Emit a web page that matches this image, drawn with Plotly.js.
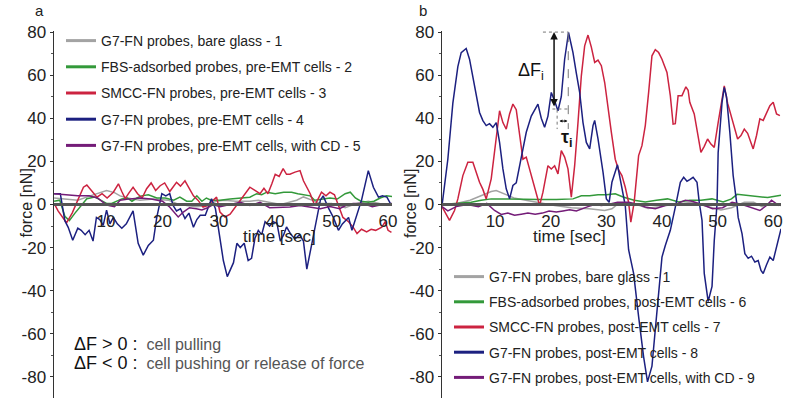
<!DOCTYPE html>
<html>
<head>
<meta charset="utf-8">
<script src="https://cdn.plot.ly/plotly-3.0.1.min.js"></script>
<style>html,body{margin:0;padding:0;background:#fff}#chart{width:800px;height:405px}</style>
</head>
<body>
<div id="chart"></div>
<script>
// ---------- Panel a (pre-EMT) ----------
var tA1 = [0.8,3,5,7.2,8.9,10.1,11.5,12.5,13.8,16,18.5,21,22.5,24.3,26,28,29.5,31,33,35.5,37,39,41,43.8,45,46.5,48,50,52.4,54.5,56.5,58.5,60.7];
var fA1 = [3,2.5,2,4,5.5,6.5,5.5,4,3,2,2.5,2,0.5,-0.5,-1,-0.5,1.5,2,1.5,1.5,2,1,0,2,3.5,2,0.5,0.5,-1.5,0.5,1.5,0.5,0];

var tA2 = [0.8,1.8,2.7,3.5,4.5,5.7,6.6,8,9,10.1,11,12,12.8,13.8,14.6,15.5,16.3,17.5,19,20.5,22,23.1,24.3,25.2,26.1,27,27.8,28.6,30.2,32,33.8,35.5,36.7,37.6,38.5,40,41.5,42.9,44,45.2,46.2,47,48,49.7,51,52.4,53.3,54.2,55.2,56.5,57.5,58.6,59.7,60.7];
var fA2 = [1.5,2,-5.5,-7.5,-4,0,2.7,3.5,2,0.5,0.5,1.5,2.6,3,1.5,3,4,4.5,3,3,2,3.4,1.5,1.5,4,1.5,3,2,2,2.5,3,3.4,5,4.5,5.7,5,5.7,5.7,5,4.5,4,2,2.5,3,2.5,5,5.7,3,1.5,1,1.5,3,4,3.7];

var tA3 = [0.8,1.5,3,4,5,6,6.6,7.5,8.4,9.3,10.2,11.3,12.2,12.8,13.4,14.1,14.8,15.6,16.4,17.2,18,18.8,19.6,20.4,21.3,22.5,23.2,24,24.8,25.5,26.3,27.2,28,28.8,29.6,30.2,31.1,32,32.9,33.8,34.6,35.5,36.4,37.3,38,38.7,39.4,40,40.7,41.4,42,42.6,43.5,44.4,45,45.6,46.2,47,47.6,48.2,49,49.7,50.5,51.2,52,53,53.8,54.5,55.3,56.2,57,57.8,58.9,59.5,60,60.6];
var fA3 = [0.5,-3,-8.5,-4,2,8,9,6,3.4,5,3,5.7,9.6,6,2.7,5.5,8,5,3,7.3,10,6.5,8.7,10,6,10.3,8.5,11,7,4,2,-1.2,-0.5,1.5,3.4,-3.5,-5.8,-4.5,-1.2,2,5,8,6.5,5,7.5,5,9.6,14,13,16.6,14,14,15,15.7,11,8,5,-0.5,3,5.7,4,5.7,4.5,-0.5,-6,-8,-10.5,-13.5,-11.5,-12.7,-11.5,-12,-10.5,-8,-12,-13];

var tA4 = [0.8,1.9,2.7,3.3,4.1,5,5.6,6.3,7,7.7,8.3,8.9,9.5,10.1,10.7,11.3,12,12.8,13.6,14.8,15.7,16.6,17.5,18.4,19,19.9,20.6,21.3,21.9,22.5,23.2,24,24.7,25.5,26.1,26.7,27.6,28.2,28.7,29.4,30.2,30.8,31.5,32.6,33.2,33.8,34.5,35.2,35.8,36.4,37,37.6,38.2,39,39.6,40.3,40.9,41.5,42,42.8,43.5,44.3,45,45.6,46.5,47.4,48,48.5,49.4,50.3,51.2,51.9,53,53.6,54.3,55.3,56.5,57.4,58.3,59,59.8,60.4];
var fA4 = [5,5,-7.5,-10.6,-16.6,-11,-12,-14,-12,-17,-6,-7,-9.7,-2.6,-9,-6,-9,-11,-9,-3,-18,-23.5,-19,-16.6,-6,5,4,5,-0.5,-3,-2,-6.5,-4,-10.6,-7,-5,-5,-1,2.7,-2,-16.6,-26,-33.5,-27,-18,-20,-18,-26,-25,-15.7,-12,-14,-8,-10,-8,-8.7,-17,-14,-10.4,-14,-16,-14,-17,-30,-18,-6,2,4,-1.5,-6,-12,-9,-6,-12,-6,2,15.7,8,3.4,4,3.4,0.5];

var tA5 = [0.8,3,5,7,8.5,9.5,10.5,11.5,12.5,14.3,16,18,20,21.2,21.9,22.8,23.7,24.8,26,27,28,29,30.2,32,33.8,35.5,37.3,39,40.9,42.6,44.4,46.2,48,49.7,51.4,52.5,53.8,55.5,57.2,59,60.7];
var fA5 = [5,4.5,4,4,3,1,-0.5,-1,2,2.6,3,2.5,1.5,-1,-3,-5.8,-3.5,-1.5,-2,-2.5,-1.5,0,-1,0,1,-0.5,1,-1.5,-1.2,-1.2,-0.5,-1.2,-2,-1,-2,-0.5,0.5,0.5,-1,0,0.5];

// ---------- Panel b (post-EMT) ----------
var tB1 = [0.45,3,5.5,7.5,9.3,10.2,11.5,13.4,15.5,17.7,20.7,23.7,26.9,29.7,31,32.2,34,36,37.5,39.5,41.5,43.5,45.5,47.5,50.6,52.5,54.8,56.5,58,59.5,61.4];
var fB1 = [-0.5,0.5,2,4,6,6.5,5,3,2,1,-0.5,-1.5,-2,-2.8,-2,0.5,0.5,-0.5,-1.8,-1,0,0.5,1,-0.5,-2.5,-1.5,1,1,-1,0.5,-0.5];

var tB6 = [0.45,3,5.7,7.5,9.3,12,15,18,21,24,25.5,27,28.5,30,31.6,33,35,37,39,41,43,45,47,49,51,52.5,53.5,55,57,59,61.4];
var fB6 = [0,0.5,1,2,2.6,2.6,2.3,2.3,2.3,2.6,4,4,4.5,4.5,5,3.5,2,1.2,2,2.6,1.2,2,2,2.6,1.2,2.6,4.7,4.3,4,3.2,4.3];

var tB7 = [0.45,1.8,2.7,3.3,4.2,5.1,6,6.6,7.2,7.8,8.4,9.3,10.2,10.8,11.4,12,12.6,13.2,13.8,14.4,15,15.6,16.2,17.1,18,18.6,19.5,20.1,20.7,21.3,21.9,22.5,23.1,23.7,24.3,24.9,25.5,26.1,26.7,27.3,27.9,28.5,29.1,29.7,30.3,30.9,31.6,32.2,32.8,33.4,34,34.4,35,35.8,36.4,37,37.6,38.2,38.8,39.4,40,40.9,41.5,42,42.4,42.9,43.6,44.3,44.7,45,45.8,46.4,47,47.6,48.2,48.8,49.4,50.1,50.8,51.2,51.8,52.4,53,53.6,54.2,54.8,55.4,56,56.4,57,57.6,58.2,58.8,59.4,60,60.6,61.2];
var fB7 = [-1,-7.4,-2.8,2.6,13.4,19.6,19.6,15,10.3,7,2.6,11.9,30.4,43.5,38,35,42,46.6,44,32,21,22,16.5,8.8,-0.5,5.7,18,16.5,18,14.2,25,22,16.5,3.4,18,38,59.7,73.6,78.6,73,65.9,67,64.4,56.6,44.3,33.5,21,16,13.4,8,1,-8.2,1,22.7,27.3,36.6,52,69,71.8,70.5,67.4,61.3,50.5,37.3,37.5,50.5,50.5,54.6,53,47.4,42,32,24.2,27,30.4,28,26.5,38,48.9,55,47,41.2,36,30.4,32,35,33,29,25.8,32,39.7,39,42.7,45.8,47.4,42,41.2];

var tB8 = [0.45,1.5,2.4,3.3,3.9,4.8,5.4,6,6.6,7.2,7.8,8.4,9,9.6,10.2,10.8,11.4,12,12.6,13.2,13.8,14.7,15.6,16.5,17.7,18.3,18.9,19.5,20.1,20.7,21.3,21.9,22.5,23.2,24,24.6,25.2,25.8,26.4,27,27.6,27.9,28.5,29.4,30,30.5,31,32,32.6,33.4,34,34.9,35.8,36.7,37.4,38.2,38.8,39.4,40,40.6,41.5,42.4,42.7,43.3,43.9,44.5,45,45.6,46.3,46.7,47.2,47.6,48.3,49,49.4,49.9,50.1,50.8,51.2,51.6,52.2,52.8,53.5,53.7,54.4,54.9,55.5,56.1,56.7,57.3,57.8,58.2,58.8,59.4,60,60.6,61.4];
var fB8 = [-0.5,21,47,64,70.5,72.4,67.4,59.7,52,42.7,38.9,36.6,37.5,35.8,38,28.8,16.5,7.3,2.6,8.8,10,21,33.5,41,46.6,40,35.8,41,52,48,43.5,50,67.4,79.8,70.5,61,52,38,28.8,25.8,36.6,39,30.4,15,2.6,1,10.3,18.4,10,-0.5,-21,-32,-52,-70.7,-82.3,-75,-58,-40,-24.4,-19,-12,-1.2,2.6,10.3,12.6,10.8,11.5,12.6,10.3,1,-7.4,-32,-45,-38,-16.7,0.3,24,47.4,54.3,50,33.5,13.4,-0.5,-6,-13.6,-22.8,-25,-24,-26.7,-26,-30.6,-32,-28,-24.4,-26,-19.8,-11.3];

var tB9 = [0.45,1.5,3,5,7,8.5,9.9,11.1,12.3,13.5,14.7,15.9,17.2,18.5,19.7,21,22.2,23.4,24.6,25.5,26.7,27.9,29.1,30.3,32,34,35.8,37,38.8,40.6,42.4,44.2,45.4,47.2,49.1,50.9,52.6,54.4,56.2,57.6,58.8,59.7,61];
var fB9 = [-1,-3,-1,0,-1,0.5,-2.8,-4.6,-4,-5,-4.5,-4,-4.5,-4,-3,-3.5,-3,-2.5,-3,-2,-1,0,-0.5,0,1,1,0,-1.2,-2,-0.5,0,2,1.5,0,-2,-1.5,1,0,-1.5,-2.8,-0.5,2,-0.5];

// ---------- Labels ----------
var namesA = ["G7-FN probes, bare glass - 1","FBS-adsorbed probes, pre-EMT cells - 2","SMCC-FN probes, pre-EMT cells - 3","G7-FN probes, pre-EMT cells - 4","G7-FN probes, pre-EMT cells, with CD - 5"];
var namesB = ["G7-FN probes, bare glass - 1","FBS-adsorbed probes, post-EMT cells - 6","SMCC-FN probes, post-EMT cells - 7","G7-FN probes, post-EMT cells - 8","G7-FN probes, post-EMT cells, with CD - 9"];
var xTickVals = [10,20,30,40,50,60];
var xTickText = ["10","20","30","40","50","60"];
var yTickVals = [80,60,40,20,0,-20,-40,-60,-80];
var yTickText = ["80","60","40","20","0","-20","-40","-60","-80"];
var colors = ["#a3a3a3","#33993a","#cc2340","#1c2080","#741c78"];

var FONT = "Liberation Sans, Arial, Helvetica, sans-serif";

// ---------- Geometry (layout only) ----------
var yRange = [-89.8, 80.5];
var yDom = [7/405, 374/405];
var zeroPos = yDom[0] + (0 - yRange[0])/(yRange[1]-yRange[0])*(yDom[1]-yDom[0]);

var seriesA = [[tA1,fA1],[tA2,fA2],[tA3,fA3],[tA4,fA4],[tA5,fA5]];
var seriesB = [[tB1,fB1],[tB6,fB6],[tB7,fB7],[tB8,fB8],[tB9,fB9]];

var traces = [];
seriesA.forEach(function(s,i){
  traces.push({x:s[0], y:s[1], type:'scatter', mode:'lines', xaxis:'x', yaxis:'y',
    line:{color:colors[i], width:1.5}, showlegend:false, hoverinfo:'skip', name:namesA[i]});
});
seriesB.forEach(function(s,i){
  traces.push({x:s[0], y:s[1], type:'scatter', mode:'lines', xaxis:'x2', yaxis:'y2',
    line:{color:colors[i], width:1.5}, showlegend:false, hoverinfo:'skip', name:namesB[i]});
});
// legend entries (thicker swatches, as in the figure)
namesA.forEach(function(n,i){
  traces.push({x:[null], y:[null], type:'scatter', mode:'lines', xaxis:'x', yaxis:'y',
    line:{color:colors[i], width:3}, name:n, legend:'legend', legendgroup:'a'+i, showlegend:true});
});
namesB.forEach(function(n,i){
  traces.push({x:[null], y:[null], type:'scatter', mode:'lines', xaxis:'x2', yaxis:'y2',
    line:{color:colors[i], width:3}, name:n, legend:'legend2', legendgroup:'b'+i, showlegend:true});
});

function xAxis(dom, rng){
  return {domain:dom, range:rng, anchor:'free', position:zeroPos,
    showline:true, linecolor:'#555', linewidth:3, showgrid:false, zeroline:false,
    tickmode:'array', tickvals:xTickVals, ticktext:xTickText, ticks:'',
    tickfont:{family:FONT, size:17, color:'#222'}, layer:'above traces'};
}
function yAxis(anchor){
  return {domain:yDom, range:yRange, anchor:anchor, showline:true, linecolor:'#333', linewidth:1.5,
    showgrid:false, zeroline:false, tickmode:'array', tickvals:yTickVals, ticktext:yTickText,
    ticks:'outside', ticklen:3, tickcolor:'#333',
    minor:{tickmode:'linear', tick0:0, dtick:10, ticks:'outside', ticklen:2, tickcolor:'#555'},
    tickfont:{family:FONT, size:17, color:'#222'}};
}

var legendCommon = {bgcolor:'rgba(0,0,0,0)', borderwidth:0, xanchor:'left', yanchor:'top',
  traceorder:'grouped', tracegroupgap:5, font:{family:FONT, size:14, color:'#222'}};

var layout = {
  width:800, height:405, margin:{l:0,r:0,t:0,b:0},
  paper_bgcolor:'#fff', plot_bgcolor:'rgba(0,0,0,0)',
  font:{family:FONT, color:'#222'},
  xaxis:xAxis([54/800, 392/800],[0.78,60.7]),
  xaxis2:xAxis([442/800, 781/800],[0.45,61.4]),
  yaxis:yAxis('x'),
  yaxis2:yAxis('x2'),
  legend:Object.assign({x:61/800, y:1-25/405}, legendCommon),
  legend2:Object.assign({x:449/800, y:1-261/405}, legendCommon, {tracegroupgap:4}),
  shapes:[
    {type:'line', xref:'x2', yref:'y2', x0:18.6, x1:23.2, y0:80, y1:80, line:{color:'#777', width:1, dash:'dot'}},
    {type:'line', xref:'x2', yref:'y2', x0:20.3, x1:23.0, y0:44.3, y1:44.3, line:{color:'#777', width:1, dash:'dot'}},
    {type:'line', xref:'x2', yref:'y2', x0:23.15, x1:23.15, y0:79.5, y1:35, line:{color:'#777', width:1, dash:'dash'}},
    {type:'line', xref:'x2', yref:'y2', x0:21.15, x1:21.15, y0:44, y1:35, line:{color:'#777', width:1, dash:'dot'}}
  ],
  annotations:[
    {xref:'paper', yref:'paper', x:33/800, y:1-11/405, yanchor:'middle', text:'a', showarrow:false, font:{family:FONT,size:15,color:'#222'}},
    {xref:'paper', yref:'paper', x:423/800, y:1-11/405, yanchor:'middle', text:'b', showarrow:false, font:{family:FONT,size:15,color:'#222'}},
    {xref:'paper', yref:'paper', x:241/800, y:1-237/405, text:'time [sec]', showarrow:false, font:{family:FONT,size:17,color:'#222'}},
    {xref:'paper', yref:'paper', x:608/800, y:1-237/405, text:'time [sec]', showarrow:false, font:{family:FONT,size:17,color:'#222'}},
    {xref:'paper', yref:'paper', x:15/800, y:1-203/405, text:'force [nN]', textangle:-90, showarrow:false, font:{family:FONT,size:16,color:'#222'}},
    {xref:'paper', yref:'paper', x:410/800, y:1-203/405, text:'force [nN]', textangle:-90, showarrow:false, font:{family:FONT,size:16,color:'#222'}},
    {xref:'x', yref:'y', x:3.9, y:-64.7, xanchor:'left', showarrow:false,
      text:'<span style="font-size:18px;color:#111">ΔF &gt; 0 :</span>&nbsp;&nbsp;cell pulling', font:{family:FONT,size:16,color:'#555'}},
    {xref:'x', yref:'y', x:3.9, y:-73.5, xanchor:'left', showarrow:false,
      text:'<span style="font-size:18px;color:#111">ΔF &lt; 0 :</span>&nbsp;&nbsp;cell pushing or release of force', font:{family:FONT,size:16,color:'#555'}},
    {xref:'x2', yref:'y2', x:16.4, y:61.5, showarrow:false, text:'ΔF<sub>i</sub>', font:{family:FONT,size:18,color:'#111'}},
    {xref:'x2', yref:'y2', x:20.6, y:80, ax:20.6, ay:44.8, axref:'x2', ayref:'y2', text:'', showarrow:true,
      arrowhead:2, startarrowhead:2, arrowside:'end+start', arrowsize:1, arrowwidth:1.5, arrowcolor:'#111'},
    {xref:'x2', yref:'y2', x:23.0, y:38.7, ax:21.3, ay:38.7, axref:'x2', ayref:'y2', text:'', showarrow:true,
      arrowhead:2, startarrowhead:2, arrowside:'end+start', arrowsize:0.6, startarrowsize:0.6, arrowwidth:1, arrowcolor:'#111'},
    {xref:'x2', yref:'y2', x:22.9, y:30.4, showarrow:false, text:'<b>τ<sub>i</sub></b>', font:{family:FONT,size:18,color:'#111'}}
  ]
};

Plotly.newPlot('chart', traces, layout, {staticPlot:true, displayModeBar:false});
</script>
</body>
</html>
